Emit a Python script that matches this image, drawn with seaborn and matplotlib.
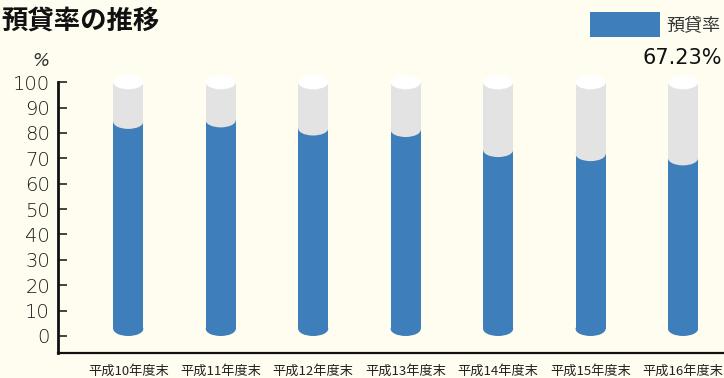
import matplotlib
matplotlib.use("Agg")
import matplotlib.pyplot as plt
import seaborn as sns
import pandas as pd
from matplotlib.patches import Ellipse, Rectangle

# ---- data ----
categories = ["平成10年度末", "平成11年度末", "平成12年度末", "平成13年度末",
              "平成14年度末", "平成15年度末", "平成16年度末"]
loan_ratio = [81.6, 82.2, 79.0, 78.4, 70.5, 68.9, 67.23]
y_ticks = [0, 10, 20, 30, 40, 50, 60, 70, 80, 90, 100]
y_major_ticks = [0, 50, 100]
series_name = "預貸率"
latest_label = "67.23%"
title = "預貸率の推移"
unit_label = "%"

# ---- style ----
sns.set_theme(style="white")
plt.rcParams['font.family'] = ['Noto Sans CJK JP', 'DejaVu Sans']

W, H = 724, 378
bg = "#FFFDEF"
blue = "#3E7EBA"
gray = "#E3E3E3"
white = "#FFFFFF"

fig = plt.figure(figsize=(W / 100, H / 100), dpi=100)
fig.patch.set_facecolor(bg)

ax_left, ax_right, ax_top, ax_bottom = 58.3, 724.0, 82.2, 353.3
ax = fig.add_axes([ax_left / W, 1 - ax_bottom / H,
                   (ax_right - ax_left) / W, (ax_bottom - ax_top) / H])
ax.set_facecolor(bg)

bar_w = 0.325
ell_h = 5.6
base = ell_h / 2

df = pd.DataFrame({"cat": categories, "val": loan_ratio})
df["full"] = 100 - base

# gray full cylinder body
sns.barplot(data=df, x="cat", y="full", color=gray, width=bar_w, bottom=base,
            errorbar=None, saturation=1, linewidth=0, zorder=2, ax=ax)
# blue body
sns.barplot(data=df, x="cat", y="val", color=blue, width=bar_w, bottom=base,
            errorbar=None, saturation=1, linewidth=0, zorder=3, ax=ax)

for i, v in enumerate(loan_ratio):
    ax.add_patch(Ellipse((i, base), bar_w, ell_h, facecolor=blue, lw=0,
                         zorder=3, clip_on=False))
    ax.add_patch(Ellipse((i, base + v), bar_w, ell_h, facecolor=gray, lw=0,
                         zorder=4, clip_on=False))
    ax.add_patch(Ellipse((i, 100), bar_w, ell_h, facecolor=white, lw=0,
                         zorder=4, clip_on=False))

ax.set_xlim(-0.757, 6.443)
ax.set_ylim(-6.82, 100)

for s in ["top", "right"]:
    ax.spines[s].set_visible(False)
ax.spines["left"].set_linewidth(2.0)
ax.spines["bottom"].set_linewidth(1.6)
ax.spines["left"].set_color("#111111")
ax.spines["bottom"].set_color("#111111")
ax.spines["left"].set_bounds(-6.82, 100)

ax.set_yticks(y_ticks)
ax.set_yticklabels([str(t) for t in y_ticks], fontfamily="DejaVu Sans",
                   fontweight="light", fontsize=14, color="#1a1a1a")
ax.set_yticks(y_major_ticks, minor=True)
ax.tick_params(axis="y", which="major", direction="in", length=6.8, width=1.1,
               color="#111111", pad=6, left=True)
ax.tick_params(axis="y", which="minor", direction="in", length=12.7, width=1.1,
               color="#111111", left=True)
ax.tick_params(axis="x", length=0, pad=8, labelsize=9.5, labelcolor="#222222")
ax.set_xlabel("")
ax.set_ylabel("")

# unit label
fig.text(41 / W, 1 - 61 / H, unit_label, ha="center", va="center",
         fontsize=13, color="#333333", fontfamily="DejaVu Sans",
         fontweight="light", style="italic")

# title
fig.text(1 / W, 1 - 21 / H, title, ha="left", va="center", fontsize=19,
         fontweight="bold", color="#111111")

# legend
fig.patches.append(Rectangle((590 / W, 1 - 37 / H), 70 / W, 25 / H,
                             transform=fig.transFigure, facecolor=blue, lw=0))
fig.text(666 / W, 1 - 25 / H, series_name, ha="left", va="center",
         fontsize=13, color="#333333")
fig.text(722 / W, 1 - 58 / H, latest_label, ha="right", va="center",
         fontsize=15, color="#111111", fontfamily="DejaVu Sans")

fig.savefig("out.png", dpi=100, facecolor=bg)
